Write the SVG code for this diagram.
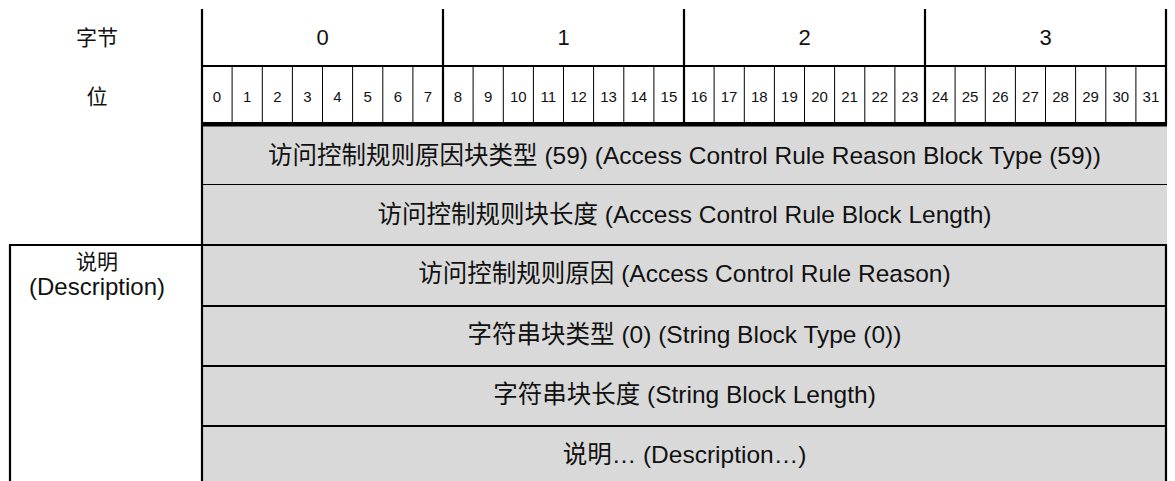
<svg xmlns="http://www.w3.org/2000/svg" width="1175" height="481" viewBox="0 0 1175 481">
<style>
text{font-family:"Liberation Sans","Noto Sans CJK SC",sans-serif;fill:#111;text-anchor:middle;dominant-baseline:central}
.byte{font-size:22px}
.bit{font-size:15px}
.row{font-size:24.5px}
.lbl{font-size:21px}
.desc{font-size:24px}
.thin{stroke:#000;stroke-width:1}
.med{stroke:#000;stroke-width:2.2}
.cell{fill:#d9d9d9}
</style>
<rect width="1175" height="481" fill="#fff"/>
<g id="header-labels">
<text class="lbl" x="97" y="37">字节</text>
<text class="lbl" x="97" y="96">位</text>
</g>
<g id="bytes">
<text class="byte" x="322.5" y="37">0</text>
<text class="byte" x="563.5" y="37">1</text>
<text class="byte" x="804.5" y="37">2</text>
<text class="byte" x="1045.5" y="37">3</text>
</g>
<g id="bits" class="bit">
<text x="217" y="96">0</text><text x="247.1" y="96">1</text><text x="277.3" y="96">2</text><text x="307.4" y="96">3</text>
<text x="337.5" y="96">4</text><text x="367.6" y="96">5</text><text x="397.8" y="96">6</text><text x="427.9" y="96">7</text>
<text x="458" y="96">8</text><text x="488.1" y="96">9</text><text x="518.3" y="96">10</text><text x="548.4" y="96">11</text>
<text x="578.5" y="96">12</text><text x="608.6" y="96">13</text><text x="638.8" y="96">14</text><text x="668.9" y="96">15</text>
<text x="699" y="96">16</text><text x="729.1" y="96">17</text><text x="759.3" y="96">18</text><text x="789.4" y="96">19</text>
<text x="819.5" y="96">20</text><text x="849.6" y="96">21</text><text x="879.8" y="96">22</text><text x="909.9" y="96">23</text>
<text x="940" y="96">24</text><text x="970.1" y="96">25</text><text x="1000.3" y="96">26</text><text x="1030.4" y="96">27</text>
<text x="1060.5" y="96">28</text><text x="1090.6" y="96">29</text><text x="1120.8" y="96">30</text><text x="1150.9" y="96">31</text>
</g>
<g id="row-type">
<rect class="cell" x="203" y="126" width="964" height="58"/>
<text class="row" x="684.5" y="155">访问控制规则原因块类型 (59) (Access Control Rule Reason Block Type (59))</text>
</g>
<g id="row-length">
<rect class="cell" x="203" y="184" width="964" height="61"/>
<text class="row" x="684.5" y="214">访问控制规则块长度 (Access Control Rule Block Length)</text>
</g>
<g id="row-reason">
<rect class="cell" x="203" y="245" width="963" height="61"/>
<text class="row" x="684.5" y="273">访问控制规则原因 (Access Control Rule Reason)</text>
</g>
<g id="row-string-type">
<rect class="cell" x="203" y="306" width="963" height="60"/>
<text class="row" x="684.5" y="334">字符串块类型 (0) (String Block Type (0))</text>
</g>
<g id="row-string-length">
<rect class="cell" x="203" y="366" width="963" height="60"/>
<text class="row" x="684.5" y="394">字符串块长度 (String Block Length)</text>
</g>
<g id="row-description">
<rect class="cell" x="203" y="426" width="963" height="55"/>
<text class="row" x="684.5" y="454">说明… (Description…)</text>
</g>
<g id="description-label">
<text class="lbl" x="97" y="261">说明</text>
<text class="desc" x="97" y="286">(Description)</text>
</g>
<g id="grid">
<path class="med" fill="none" d="M202,9V481 M443,9V124 M684,9V124 M925,9V124 M1166,9V124 M202,66H1167 M10,245H1167 M10,244V481 M1166,244V481 M202,306H1167 M202,366H1167 M202,426H1167"/>
<path class="thin" fill="none" d="M232.1,66V122 M262.3,66V122 M292.4,66V122 M322.5,66V122 M352.6,66V122 M382.8,66V122 M412.9,66V122 M473.1,66V122 M503.3,66V122 M533.4,66V122 M563.5,66V122 M593.6,66V122 M623.8,66V122 M653.9,66V122 M714.1,66V122 M744.3,66V122 M774.4,66V122 M804.5,66V122 M834.6,66V122 M864.8,66V122 M894.9,66V122 M955.1,66V122 M985.3,66V122 M1015.4,66V122 M1045.5,66V122 M1075.6,66V122 M1105.8,66V122 M1135.9,66V122 M203,184.5H1167"/>
<rect x="201" y="122" width="966" height="4.5" fill="#000"/>
</g>
</svg>
